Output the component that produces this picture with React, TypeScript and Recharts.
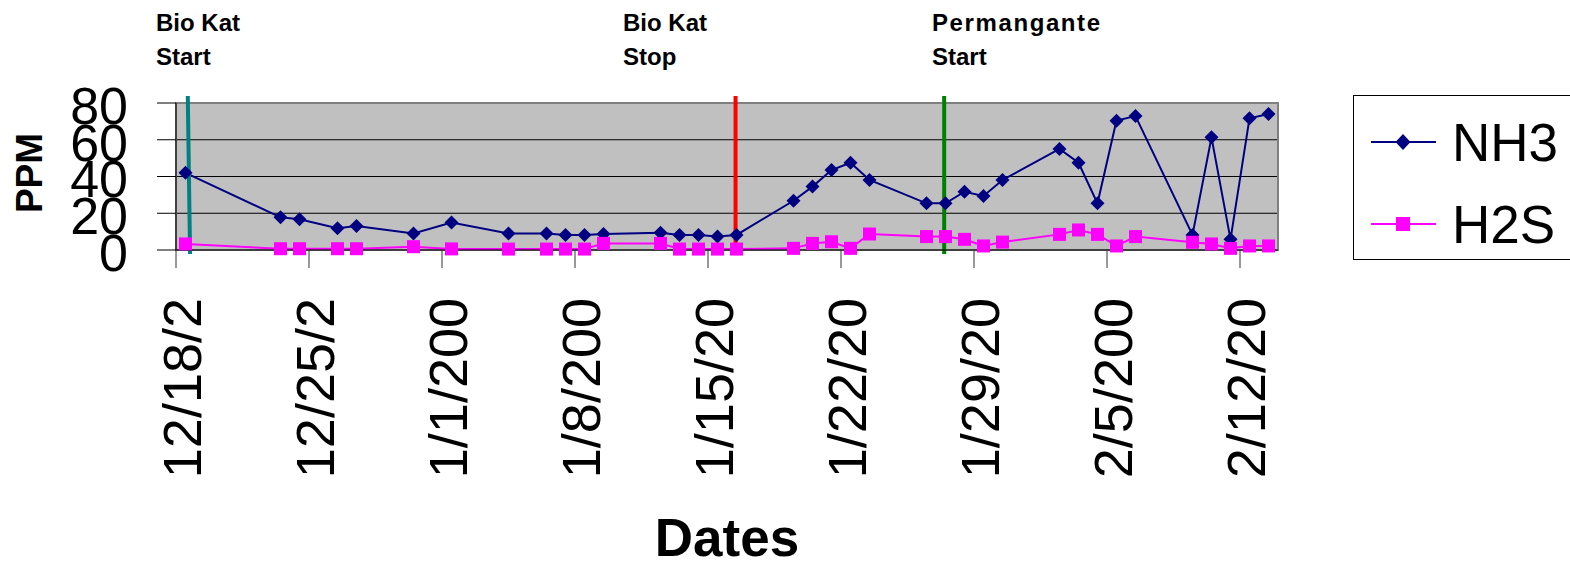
// NH3 / H2S 농도 추이 그래프 (Recharts)
import React from 'react';
import {
  LineChart, Line, XAxis, YAxis, CartesianGrid,
  ReferenceLine, ReferenceArea,
} from 'recharts';

// 12/18 기준 경과일
const sampleDays = [
  0, 5, 6, 8, 9, 12, 14, 17, 19, 20, 21, 22, 25, 26, 27, 28, 29,
  32, 33, 34, 35, 36, 39, 40, 41, 42, 43, 46, 47, 48, 49, 50, 53, 54, 55, 56, 57,
];
const nh3Values = [
  42, 17.8, 16.7, 11.8, 13, 9, 15, 9, 9, 8.2, 8.2, 8.7, 9.4, 8.2, 8.2, 7.3, 8.2,
  26.8, 34.5, 43.5, 47.5, 38.1, 25.4, 25.4, 31.7, 29.4, 38.1, 55, 47.5, 25.4, 70.4, 72.9, 8.2, 61.3, 5.8, 71.7, 74,
];
const h2sValues = [
  3.3, 0.7, 0.7, 0.7, 0.7, 1.8, 0.6, 0.5, 0.5, 0.5, 0.5, 3.6, 3.6, 0.5, 0.5, 0.5, 0.5,
  0.9, 3.6, 4.5, 0.9, 8.7, 7.3, 7.3, 5.8, 2.2, 4.3, 8.5, 10.9, 8.5, 2.2, 7.3, 4.2, 3.3, 0.9, 2.2, 2.2,
];
const xTickDays = [0, 7, 14, 21, 28, 35, 42, 49, 56];
const xTickLabels = ['12/18/2', '12/25/2', '1/1/200', '1/8/200', '1/15/20', '1/22/20', '1/29/20', '2/5/200', '2/12/20'];
const yTicks = [0, 20, 40, 60, 80];
const totalDays = 58;

// 이벤트 표시선 (Bio Kat 시작/중지, 과망간산 시작)
const eventNames = ['Bio Kat|Start', 'Bio Kat|Stop', 'Permangante|Start'];
const eventDays = [0.68, 29.45, 40.43];
const eventColors = ['#008080', '#FF0000', '#008000'];

// 하루 칸 가운데에 점을 찍음 (엑셀 날짜축 방식)
const data = sampleDays.map((d, i) => ({ day: d + 0.5, NH3: nh3Values[i], H2S: h2sValues[i] }));

const FONT = '"Liberation Sans", Arial, sans-serif';

const Diamond = (props: any) => {
  const { cx, cy, index } = props;
  if (cx == null || cy == null) return null;
  const r = 7;
  return (
    <path key={`nh3-${index}`} d={`M${cx},${cy - r}L${cx + r},${cy}L${cx},${cy + r}L${cx - r},${cy}Z`} fill="#000080" />
  );
};

const Square = (props: any) => {
  const { cx, cy, index } = props;
  if (cx == null || cy == null) return null;
  const h = 6.5;
  return <rect key={`h2s-${index}`} x={cx - h} y={cy - h} width={h * 2} height={h * 2} fill="#FF00FF" />;
};

const XTick = (props: any) => {
  const { x, index } = props;
  return (
    <text
      transform={`translate(${x + 6},298) rotate(-90)`}
      textAnchor="end" dy="0.36em" fontSize={54} fontFamily={FONT} fill="#000"
    >
      {xTickLabels[index]}
    </text>
  );
};

const YTick = (props: any) => {
  const { x, y, payload } = props;
  return (
    <text x={x} y={y} dy="0.4em" textAnchor="end" fontSize={52} fontFamily={FONT} fill="#000">
      {payload.value}
    </text>
  );
};

export default function App() {
  return (
    <div style={{ position: 'absolute', left: 0, top: 0, width: 1570, height: 563, background: '#fff' }}>
      <LineChart
        width={1570}
        height={563}
        data={data}
        margin={{ top: 103, right: 292, bottom: 253, left: 76 }}
      >
        <CartesianGrid vertical={false} stroke="#000" fill="#C0C0C0" fillOpacity={1} />
        <ReferenceArea
          x1={0} x2={totalDays} y1={0} y2={80}
          fill="none" fillOpacity={0} stroke="#808080" strokeWidth={2} ifOverflow="visible"
        />
        <XAxis
          dataKey="day" type="number" domain={[0, totalDays]} ticks={xTickDays}
          height={60} stroke="#000" tickSize={18} tickLine={{ stroke: '#333' }}
          tick={<XTick />} interval={0} allowDataOverflow
        />
        <YAxis
          type="number" domain={[0, 80]} ticks={yTicks} width={100}
          stroke="#000" tickSize={19} tickMargin={29} tickLine={{ stroke: '#000' }}
          tick={<YTick />} interval={0}
        />
        <Line
          dataKey="NH3" stroke="#000080" strokeWidth={2}
          dot={Diamond} activeDot={false} isAnimationActive={false}
        />
        <Line
          dataKey="H2S" stroke="#FF00FF" strokeWidth={2}
          dot={Square} activeDot={false} isAnimationActive={false}
        />
        {eventDays.map((d, i) => (
          <ReferenceLine
            key={eventNames[i]}
            segment={[{ x: i === 0 ? d + 0.06 : d, y: -2.2 }, { x: i === 0 ? d - 0.06 : d, y: 83.8 }]}
            stroke={eventColors[i]} strokeWidth={4} ifOverflow="visible"
          />
        ))}
      </LineChart>

      {/* 주석, 축 제목, 범례 */}
      <svg
        width={1570} height={563}
        style={{ position: 'absolute', left: 0, top: 0, pointerEvents: 'none' }}
        fontFamily={FONT}
      >
        {eventNames.map((name, i) => {
          const [l1, l2] = name.split('|');
          const left = [156, 623, 932][i];
          return (
            <g key={name} fontSize={24} fontWeight="bold" fill="#000">
              <text x={left} y={31} letterSpacing={i === 2 ? 1.6 : 0}>{l1}</text>
              <text x={left} y={65}>{l2}</text>
            </g>
          );
        })}
        <text transform="translate(42,173) rotate(-90)" textAnchor="middle" fontSize={37} fontWeight="bold">PPM</text>
        <text x={727} y={556} textAnchor="middle" fontSize={53} fontWeight="bold">Dates</text>

        <rect x={1353.5} y={95.5} width={230} height={164} fill="#fff" stroke="#000" strokeWidth={1} />
        <line x1={1371} x2={1436} y1={142} y2={142} stroke="#000080" strokeWidth={2} />
        <path d="M1403,134L1410.5,142L1403,150L1395.5,142Z" fill="#000080" />
        <text x={1452} y={161} fontSize={53}>NH3</text>
        <line x1={1371} x2={1436} y1={224} y2={224} stroke="#FF00FF" strokeWidth={2} />
        <rect x={1396} y={217} width={14} height={14} fill="#FF00FF" />
        <text x={1452} y={243} fontSize={53}>H2S</text>
      </svg>
    </div>
  );
}
